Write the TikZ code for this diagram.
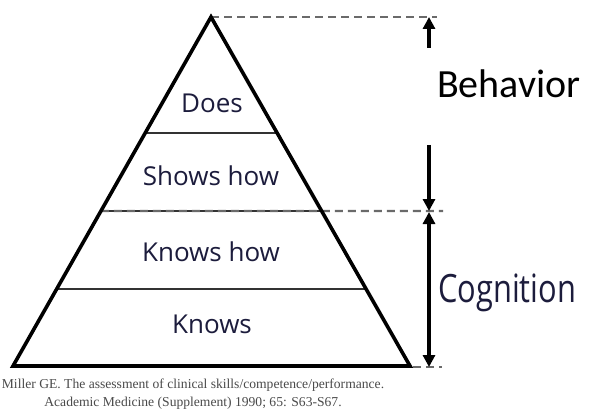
\documentclass[tikz,border=0pt]{standalone}
\usepackage{fontspec}
\setmainfont{Open Sans}
\newfontfamily\behfont{Carlito}
\newfontfamily\citefont{Liberation Serif}
\usetikzlibrary{arrows.meta,calc}
\definecolor{labelcol}{HTML}{1C1C3C}
\definecolor{dashcol}{HTML}{6A6A6A}
\definecolor{citecol}{HTML}{4A4A4A}
\tikzset{
  outline/.style={draw=black,line width=3.6pt,line join=miter},
  divider/.style={draw=black!80,line width=2.2pt},
  guide/.style={draw=dashcol,line width=2.2pt,dash pattern=on 8pt off 5pt},
  dimarrow/.style={draw=black,line width=3.2pt,-{Triangle[length=12pt,width=12pt]}},
  dimboth/.style={draw=black,line width=3.2pt,{Triangle[length=12pt,width=12pt]}-{Triangle[length=12pt,width=12pt]}},
  level/.style={font=\fontsize{26}{30}\selectfont,text=labelcol,anchor=base,inner sep=0pt},
}
\begin{document}
\begin{tikzpicture}[x=1pt,y=-1pt]
\useasboundingbox (0,0) rectangle (593,414);
\fill[white] (0,0) rectangle (593,414);
% pyramid
\coordinate (apex) at (211,17);
\coordinate (bl) at (13,366);
\coordinate (br) at (410,366);
\coordinate (l1) at ($(apex)!0.3324!(bl)$);
\coordinate (r1) at ($(apex)!0.3324!(br)$);
\coordinate (l2) at ($(apex)!0.5559!(bl)$);
\coordinate (r2) at ($(apex)!0.5559!(br)$);
\coordinate (l3) at ($(apex)!0.7794!(bl)$);
\coordinate (r3) at ($(apex)!0.7794!(br)$);
\draw[divider] (l1) -- (r1);
\draw[divider] (l2) -- (r2);
\draw[divider] (l3) -- (r3);
% guides
\coordinate (gtop) at (437,17);
\coordinate (gmid) at (443,211);
\coordinate (gbotl) at (413,367);
\coordinate (gbotr) at (442,367);
\draw[guide] (apex) -- (gtop);
\draw[guide] (l2) -- (gmid);
\draw[guide] (gbotl) -- (gbotr);
\path[outline] (apex) -- (bl) -- (br) -- cycle;
% labels
\node[level] (does) at (212,113) {Does};
\node[level] (shows) at (211,185) {Shows how};
\node[level] (knowshow) at (211,261) {Knows how};
\node[level] (knows) at (212,333) {Knows};
% arrows
\coordinate (a1s) at (429,48);
\coordinate (a1e) at (429,17);
\coordinate (a2s) at (429,145);
\coordinate (a2e) at (429,211);
\coordinate (a3s) at (429,212);
\coordinate (a3e) at (429,367);
\draw[dimarrow] (a1s) -- (a1e);
\draw[dimarrow] (a2s) -- (a2e);
\draw[dimboth] (a3s) -- (a3e);
\node[anchor=base west,inner sep=0pt,font=\behfont\fontsize{40}{44}\selectfont] (beh) at (437,98) {Behavior};
\node[anchor=base west,inner sep=0pt,text=labelcol] (cog) at (438,302) {\scalebox{0.79}[1]{\fontsize{39}{44}\selectfont Cognition}};
% citation
\node[align=center,inner sep=0pt,text=citecol,font=\citefont\fontsize{13.6}{17.5}\selectfont] (cite) at (193,394)
  {Miller GE. The assessment of clinical skills/competence/performance.\\Academic Medicine (Supplement) 1990; 65: S63-S67.};
\end{tikzpicture}
\end{document}
